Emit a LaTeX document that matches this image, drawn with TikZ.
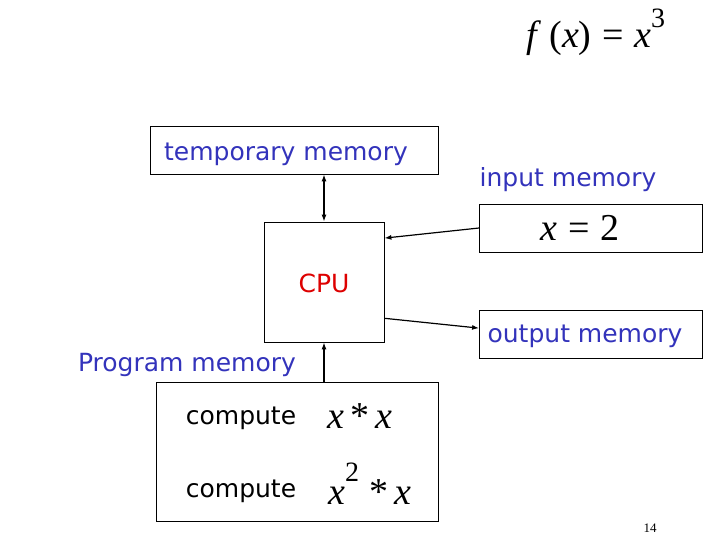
\documentclass[tikz,border=0pt]{standalone}
\usepackage{fontspec}
\usetikzlibrary{arrows.meta}
\setmainfont{DejaVu Sans}
\newfontfamily\tms{Liberation Serif}
\definecolor{lblue}{RGB}{51,51,187}
\definecolor{lred}{RGB}{221,0,0}
\newcommand\mx[1]{{\tms\fontsize{38}{40}\selectfont #1}}
\begin{document}
\begin{tikzpicture}[x=1pt,y=-1pt,>={Latex[length=7pt,width=5pt]},
    box/.style={draw,line width=.8pt,inner sep=0pt},
    lbl/.style={font=\fontsize{25}{28}\selectfont,text=lblue},
    cmd/.style={font=\fontsize{25}{28}\selectfont}]
\useasboundingbox (0,0) rectangle (720,540);
\node[box,lbl,minimum width=288,minimum height=48,text height=21pt,text depth=0pt] (temp) at (294,150) {\hspace*{-16pt}temporary memory};
\node[box,minimum width=120,minimum height=120,font=\fontsize{25}{28}\selectfont,text=lred,text height=20pt,text depth=0pt] (cpu) at (324,282) {CPU};
\node[lbl] (inl) at (568,180) {input memory};
\node[box,minimum width=223,minimum height=48] (inp) at (591,228)
  {\mx{\hspace*{-22pt}\itshape x\upshape\;=\;2}};
\node[box,lbl,minimum width=223,minimum height=48,text height=17pt,text depth=0pt] (outp) at (591,334) {\hspace*{-12pt}output memory};
\node[lbl] (progl) at (187,365) {Program memory};
\node[box,minimum width=282,minimum height=139] (prog) at (297,452) {};
\node[cmd] (c1) at (241,418) {compute};
\node (m1) at (360,416) {\mx{\itshape x\upshape\,*\,\itshape x}};
\node[cmd] (c2) at (241,491) {compute};
\node (m2) at (370,484) {\mx{\itshape x\upshape\raisebox{.6em}{\fontsize{28}{30}\selectfont 2}\;*\,\itshape x}};
\node[anchor=base west,inner sep=0pt] (fx) at (526,48) {\mx{\itshape f\upshape\,\,(\itshape x\upshape)\;=\;\itshape x\upshape\raisebox{.55em}{\fontsize{28}{30}\selectfont 3}}};
\node (pg) at (650,528) {\tms\fontsize{13}{15}\selectfont 14};
\draw[<->,line width=1.2pt] (cpu.north) -- (cpu.north |- temp.south);
\draw[->,line width=1.2pt] (inp.west) -- (cpu.36);
\draw[->,line width=1.2pt] (cpu.-31) -- (outp.177);
\draw[->,line width=1.2pt] (prog.north -| cpu) -- (cpu.south);
\end{tikzpicture}
\end{document}
